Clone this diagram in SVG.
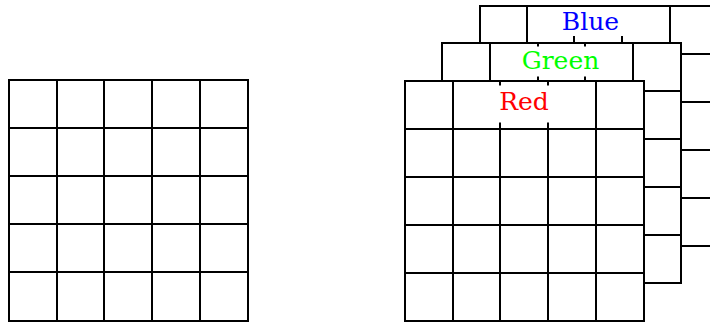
<svg xmlns="http://www.w3.org/2000/svg" width="710" height="323" viewBox="0 0 710 323">
<style>
.bg{fill:#fff;stroke:#000;stroke-width:2}
.ln{stroke:#000;stroke-width:2;fill:none}
.lb{fill:#fff;stroke:none}
.t{font-family:"DejaVu Serif",serif;font-size:25px;text-anchor:middle}
</style>
<rect width="710" height="323" fill="#fff"/>
<g id="grid-left">
<rect class="bg" x="9" y="80" width="239" height="241"/>
<path class="ln" d="M57 80V321M104 80V321M152 80V321M200 80V321M9 128H248M9 176H248M9 224H248M9 272H248"/>
</g>
<g id="grid-blue">
<rect class="bg" x="480" y="6" width="238" height="240"/>
<path class="ln" d="M527 6V246M574 6V246M622 6V246M670 6V246M480 54H718M480 102H718M480 150H718M480 198H718"/>
<rect class="lb" x="528" y="7" width="141" height="29"/>
<text class="t" x="590.5" y="29.5" fill="#0000ff">Blue</text>
</g>
<g id="grid-green">
<rect class="bg" x="442" y="43" width="239" height="240"/>
<path class="ln" d="M490 43V283M538 43V283M585 43V283M633 43V283M442 91H681M442 139H681M442 187H681M442 235H681"/>
<rect class="lb" x="491" y="46.5" width="141" height="30"/>
<text class="t" x="560.5" y="68.7" fill="#00ff00">Green</text>
</g>
<g id="grid-red">
<rect class="bg" x="405" y="81" width="239" height="240"/>
<path class="ln" d="M453 81V321M500 81V321M548 81V321M596 81V321M405 129H644M405 177H644M405 225H644M405 273H644"/>
<rect class="lb" x="454" y="85.5" width="141" height="37"/>
<text class="t" x="524" y="110" fill="#ff0000">Red</text>
</g>
<g id="connectors"></g>
</svg>
